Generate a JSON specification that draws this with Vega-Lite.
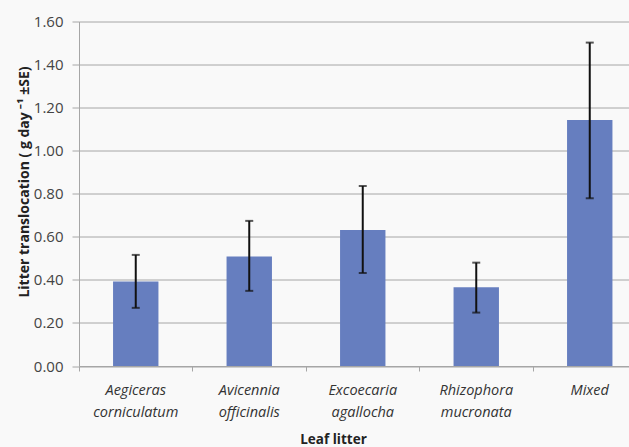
{
  "$schema": "https://vega.github.io/schema/vega-lite/v6.json",
  "autosize": "none",
  "padding": {"left": 79, "top": 21.5, "right": 0, "bottom": 81},
  "width": 550,
  "height": 344.5,
  "background": "#f9f9f9",
  "config": {
    "view": {"stroke": null},
    "font": "Open Sans",
    "axis": {"labelFont": "Open Sans", "titleFont": "Open Sans"}
  },
  "data": {
    "values": [
      {"litter": "Aegiceras corniculatum", "mean": 0.392, "lo": 0.270, "hi": 0.516},
      {"litter": "Avicennia officinalis", "mean": 0.508, "lo": 0.349, "hi": 0.674},
      {"litter": "Excoecaria agallocha", "mean": 0.632, "lo": 0.432, "hi": 0.836},
      {"litter": "Rhizophora mucronata", "mean": 0.366, "lo": 0.248, "hi": 0.480},
      {"litter": "Mixed", "mean": 1.142, "lo": 0.779, "hi": 1.502}
    ]
  },
  "encoding": {
    "x": {
      "field": "litter", "type": "nominal", "sort": null,
      "scale": {"paddingInner": 0, "paddingOuter": 0, "range": [0, 567.5]}
    }
  },
  "layer": [
    {
      "mark": {"type": "bar", "color": "#667ebf", "width": {"band": 0.4}},
      "encoding": {
        "x": {
          "field": "litter", "type": "nominal", "sort": null,
          "axis": {
            "title": "Leaf litter", "titleFontWeight": "bold", "titleFontSize": 13.5, "titleColor": "#222",
            "titlePadding": 14, "titleX": 254,
            "labelAngle": 0, "labelFontStyle": "italic", "labelFontSize": 14.5, "labelColor": "#333",
            "labelExpr": "split(datum.label, ' ')", "labelLineHeight": 22, "labelPadding": 17,
            "ticks": false, "domainColor": "#a6a6a6", "domainWidth": 1
          }
        },
        "y": {
          "field": "mean", "type": "quantitative",
          "title": "Litter translocation ( g day ⁻¹ ±SE)",
          "scale": {"domain": [0, 1.6], "nice": false},
          "axis": {
            "titleFontWeight": "bold", "titleFontSize": 14,
            "titleColor": "#222", "titlePadding": 2, "titleY": 160,
            "values": [0, 0.2, 0.4, 0.6, 0.8, 1.0, 1.2, 1.4, 1.6], "format": ".2f",
            "labelFontSize": 15, "labelColor": "#444", "labelPadding": 9,
            "tickSize": 7, "tickColor": "#a6a6a6", "domainColor": "#a6a6a6",
            "grid": true, "gridColor": "#a6a6a6", "gridWidth": 1
          }
        }
      }
    },
    {
      "mark": {"type": "rule", "strokeWidth": 2, "color": "#111"},
      "encoding": {
        "x": {
          "field": "litter", "type": "nominal", "sort": null,
          "axis": {"title": null, "labels": false, "domain": false, "ticks": true, "bandPosition": 0, "tickSize": 5, "tickColor": "#a6a6a6", "orient": "bottom"}
        },
        "y": {"field": "lo", "type": "quantitative", "title": "Litter translocation ( g day ⁻¹ ±SE)"},
        "y2": {"field": "hi"}
      }
    },
    {
      "mark": {"type": "tick", "thickness": 2, "size": 8, "color": "#111"},
      "encoding": {
        "x": {"field": "litter", "type": "nominal", "sort": null, "axis": null},
        "y": {"field": "lo", "type": "quantitative", "title": "Litter translocation ( g day ⁻¹ ±SE)"}
      }
    },
    {
      "mark": {"type": "tick", "thickness": 2, "size": 8, "color": "#111"},
      "encoding": {
        "x": {"field": "litter", "type": "nominal", "sort": null, "axis": null},
        "y": {"field": "hi", "type": "quantitative", "title": "Litter translocation ( g day ⁻¹ ±SE)"}
      }
    }
  ],
  "resolve": {"axis": {"x": "independent"}}
}
